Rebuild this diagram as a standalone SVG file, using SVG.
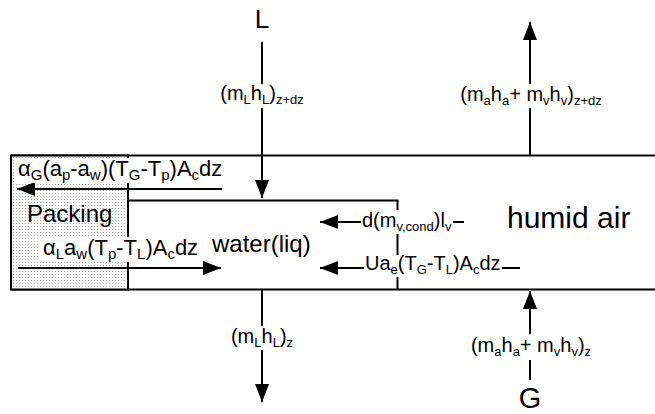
<svg xmlns="http://www.w3.org/2000/svg" width="655" height="414" viewBox="0 0 655 414">
<style>
.ln{stroke:#000;stroke-width:2;fill:none}
.ar{stroke:#000;stroke-width:2;fill:none;marker-end:url(#ah)}
text{font-family:"Liberation Sans",Arial,sans-serif;fill:#000}
.lb{font-size:20px}
.pk{font-size:22px}
.s{font-size:13px}
.s2{font-size:15px}
.bg{fill:#fff}
</style>
<defs>
<pattern id="dots" width="3" height="3" patternUnits="userSpaceOnUse">
<rect width="3" height="3" fill="#fff"/>
<rect x="1" y="1" width="1" height="1" fill="#a8a8a8"/>
</pattern>
<marker id="ah" markerUnits="userSpaceOnUse" markerWidth="20" markerHeight="14" refX="18" refY="7" orient="auto">
<path d="M0,0 L18,7 L0,14 z" fill="#000"/>
</marker>
</defs>
<rect width="655" height="414" fill="#fff"/>

<g id="humid-air">
<path class="ln" d="M11,155.5 H655 M11,289.5 H655"/>
<text x="507" y="228" font-size="30">humid air</text>
</g>

<g id="packing">
<rect x="11" y="155.5" width="117" height="134" fill="url(#dots)" stroke="#000" stroke-width="2"/>
<text x="27" y="222" font-size="24">Packing</text>
</g>

<g id="water">
<path class="ln" d="M128,200.5 H397.5 V290"/>
<text x="212" y="252" font-size="24">water(liq)</text>
</g>

<g id="connectors">
<path class="ar" d="M262,42 V198"/>
<path class="ar" d="M262,290 V402"/>
<path class="ar" d="M530,155 V22"/>
<path class="ar" d="M530,380 V291"/>
<path class="ar" d="M222,189 H17"/>
<path class="ar" d="M18,268 H221"/>
<path class="ar" d="M464,222 H320"/>
<path class="ar" d="M520,268 H320"/>
</g>

<g id="labels">
<rect class="bg" x="14" y="158" width="208" height="25"/>
<text class="pk" x="18" y="176">α<tspan class="s2" dy="4">G</tspan><tspan dy="-4">(a</tspan><tspan class="s2" dy="4">p</tspan><tspan dy="-4">-a</tspan><tspan class="s2" dy="4">w</tspan><tspan dy="-4">)(T</tspan><tspan class="s2" dy="4">G</tspan><tspan dy="-4">-T</tspan><tspan class="s2" dy="4">p</tspan><tspan dy="-4">)A</tspan><tspan class="s2" dy="4">c</tspan><tspan dy="-4">dz</tspan></text>

<rect class="bg" x="40" y="237" width="160" height="25"/>
<text class="pk" x="43" y="255">α<tspan class="s2" dy="4">L</tspan><tspan dy="-4">a</tspan><tspan class="s2" dy="4">w</tspan><tspan dy="-4">(T</tspan><tspan class="s2" dy="4">p</tspan><tspan dy="-4">-T</tspan><tspan class="s2" dy="4">L</tspan><tspan dy="-4">)A</tspan><tspan class="s2" dy="4">c</tspan><tspan dy="-4">dz</tspan></text>

<rect class="bg" x="361" y="210" width="92" height="24"/>
<text class="lb" x="362" y="227">d(m<tspan class="s" dy="4">v,cond</tspan><tspan dy="-4">)l</tspan><tspan class="s" dy="4">v</tspan></text>

<rect class="bg" x="364" y="255" width="138" height="22"/>
<text class="lb" x="365" y="270">Ua<tspan class="s" dy="4">e</tspan><tspan dy="-4">(T</tspan><tspan class="s" dy="4">G</tspan><tspan dy="-4">-T</tspan><tspan class="s" dy="4">L</tspan><tspan dy="-4">)A</tspan><tspan class="s" dy="4">c</tspan><tspan dy="-4">dz</tspan></text>

<rect class="bg" x="218" y="84" width="90" height="24"/>
<text class="lb" x="262" y="100" text-anchor="middle">(m<tspan class="s" dy="4">L</tspan><tspan dy="-4">h</tspan><tspan class="s" dy="4">L</tspan><tspan dy="-4">)</tspan><tspan class="s" dy="4">z+dz</tspan></text>

<rect class="bg" x="456" y="84" width="152" height="24"/>
<text class="lb" x="531" y="101" text-anchor="middle">(m<tspan class="s" dy="4">a</tspan><tspan dy="-4">h</tspan><tspan class="s" dy="4">a</tspan><tspan dy="-4">+ m</tspan><tspan class="s" dy="4">v</tspan><tspan dy="-4">h</tspan><tspan class="s" dy="4">v</tspan><tspan dy="-4">)</tspan><tspan class="s" dy="4">z+dz</tspan></text>

<rect class="bg" x="228" y="326" width="68" height="24"/>
<text class="lb" x="262" y="343" text-anchor="middle">(m<tspan class="s" dy="4">L</tspan><tspan dy="-4">h</tspan><tspan class="s" dy="4">L</tspan><tspan dy="-4">)</tspan><tspan class="s" dy="4">z</tspan></text>

<rect class="bg" x="466" y="334" width="130" height="26"/>
<text class="lb" x="531" y="352" text-anchor="middle">(m<tspan class="s" dy="4">a</tspan><tspan dy="-4">h</tspan><tspan class="s" dy="4">a</tspan><tspan dy="-4">+ m</tspan><tspan class="s" dy="4">v</tspan><tspan dy="-4">h</tspan><tspan class="s" dy="4">v</tspan><tspan dy="-4">)</tspan><tspan class="s" dy="4">z</tspan></text>
</g>

<g id="L">
<text x="262" y="28" font-size="26" text-anchor="middle">L</text>
</g>
<g id="G">
<text x="530" y="408" font-size="29" text-anchor="middle">G</text>
</g>
</svg>
